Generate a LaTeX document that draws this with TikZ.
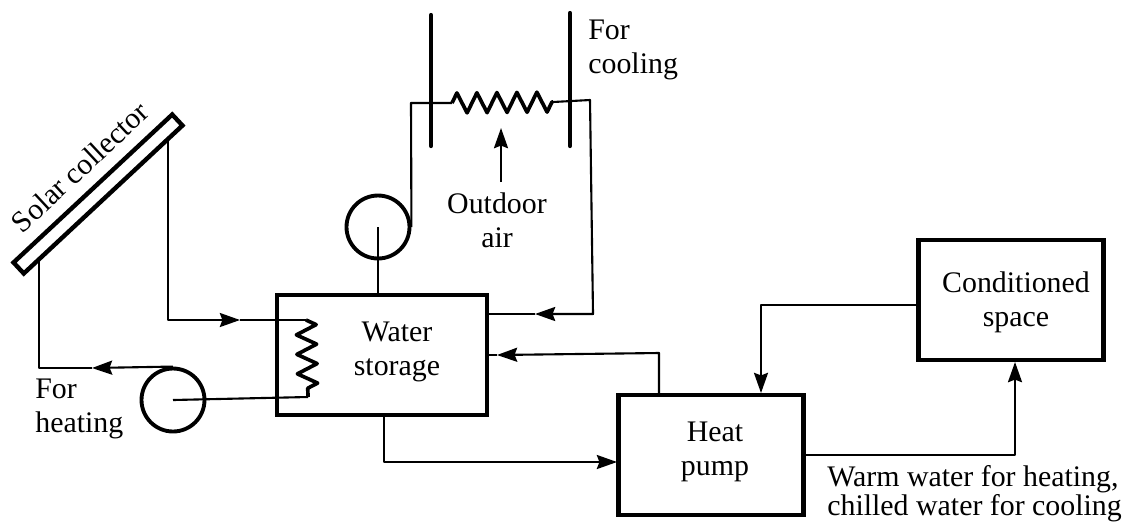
\documentclass[tikz,border=0pt]{standalone}
\usepackage{fontspec}
\setmainfont{Liberation Serif}
\usetikzlibrary{arrows.meta,decorations.pathmorphing}
\tikzset{
  unit/.style={rectangle, draw=black, line width=2.5pt, inner sep=0pt, align=center, minimum width=#1},
  pumpc/.style={circle, draw=black, line width=2.2pt, inner sep=0pt, minimum size=1.26cm},
  pipe/.style={draw=black, line width=1.2pt, line join=round},
  link/.style={pipe, -{Stealth[length=11.5pt, width=8pt, inset=1.5pt]}},
  fin/.style={draw=black, line width=2.4pt, line cap=round},
  coil/.style={draw=black, line width=2.1pt, line join=round, decorate, decoration={zigzag, segment length=#1, amplitude=0.2cm}},
  lbl/.style={font=\fontsize{17}{19.4}\selectfont, align=#1, inner sep=0pt},
}
\begin{document}
\begin{tikzpicture}[x=0.02cm, y=-0.02cm]
  \useasboundingbox (0,0) rectangle (1131,522);
  \node[unit=4.2cm, minimum height=2.4cm] (tank) at (382,355) {};
  \node[unit=3.7cm, minimum height=2.4cm] (hp) at (711,455) {};
  \node[unit=3.7cm, minimum height=2.4cm] (space) at (1011,300) {};
  \node[unit=4.34cm, minimum height=0.3cm, rotate=43] (collector) at (98,194) {};
  \node[pumpc] (pumpa) at (173,400) {};
  \node[pumpc] (pumpb) at (378,227) {};
  \node[lbl=center] (tanktext) at (397,352) {Water\\storage};
  \node[lbl=center] (hptext) at (715,452) {Heat\\pump};
  \node[lbl=center] (spacetext) at (1016,302) {Conditioned\\space};
  \node[lbl=center, rotate=43] (collectortext) at (80,167) {Solar collector};
  \node[lbl=left, anchor=west] (cooltext) at (588,50) {For\\cooling};
  \node[lbl=center] (airtext) at (497,220) {Outdoor\\air};
  \node[lbl=left, anchor=west] (heattext) at (35,409) {For\\heating};
  \node[lbl=left, anchor=west, font=\fontsize{17}{16.5}\selectfont] (watertext) at (827,494) {Warm water for heating,\\chilled water for cooling};

  \coordinate (fina) at (431,15);
  \coordinate (finb) at (431,146);
  \coordinate (finc) at (570,13);
  \coordinate (find) at (570,146);
  \draw[fin] (fina) -- (finb);
  \draw[fin] (finc) -- (find);

  \coordinate (hxa) at (452,103);
  \coordinate (hxb) at (553,102);
  \coordinate (coila) at (306,320);
  \coordinate (coilb) at (308,397);
  \draw[coil=0.4cm] (hxa) -- (hxb);
  \draw[coil=0.39cm] (coila) -- (coilb);

  \coordinate (aira) at (501,182);
  \coordinate (airb) at (501,128);
  \draw[link] (aira) -- (airb);

  \draw[pipe] (pumpb.east) -- (411,103) -- (hxa);
  \draw[pipe] (pumpb.center) -- (pumpb.center |- tank.north);
  \coordinate (outa) at (487,314);
  \coordinate (outb) at (535,314);
  \draw[link] (hxb) -- (590,100) -- (593,314) -- (outb);
  \draw[pipe] (outb) -- (outa);

  \coordinate (cola) at (168,138);
  \coordinate (colb) at (39,258);
  \coordinate (ina) at (240,320);
  \draw[link] (cola) -- (cola |- ina) -- (ina);
  \draw[pipe] (ina) -- (coila);
  \coordinate (heata) at (92,368);
  \draw[link] (pumpa.north) -- (heata);
  \draw[pipe] (heata) -- (heata -| colb) -- (colb);
  \draw[pipe] (pumpa.center) -- (coilb);

  \coordinate (reta) at (487,355);
  \coordinate (retb) at (497,355);
  \coordinate (hpa) at (659,393);
  \coordinate (hpb) at (659,353);
  \draw[link] (hpa) -- (hpb) -- (retb);
  \draw[pipe] (retb) -- (reta);

  \coordinate (tanka) at (384,415);
  \coordinate (tankb) at (384,462);
  \coordinate (hpc) at (617,462);
  \draw[link] (tanka) -- (tankb) -- (hpc);

  \coordinate (spa) at (918,305);
  \coordinate (spb) at (761,305);
  \coordinate (hpd) at (761,393);
  \draw[link] (spa) -- (spb) -- (hpd);

  \coordinate (hpe) at (804,455);
  \coordinate (hpf) at (1015,455);
  \coordinate (spc) at (1015,362);
  \draw[link] (hpe) -- (hpf) -- (spc);
\end{tikzpicture}
\end{document}
